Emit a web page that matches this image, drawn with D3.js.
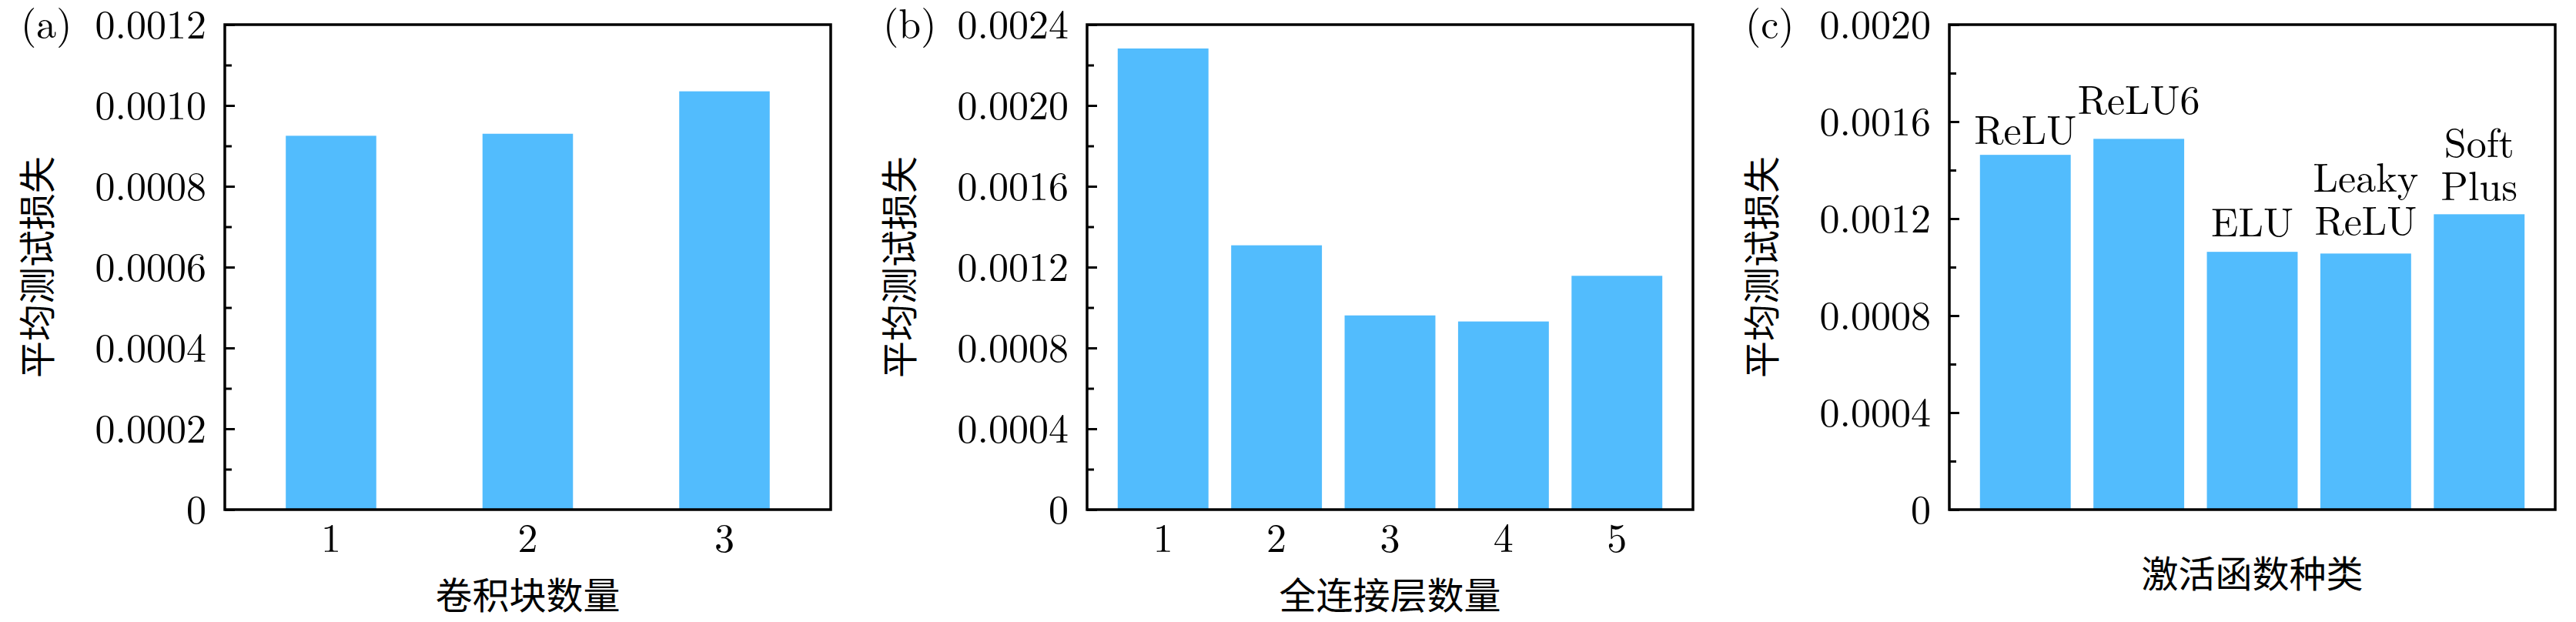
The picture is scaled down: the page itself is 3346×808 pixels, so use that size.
<!DOCTYPE html>
<html>
<head>
<meta charset="utf-8">
<script src="https://cdn.jsdelivr.net/npm/d3@7"></script>
<style>
  html, body { margin: 0; padding: 0; background: #fff; }
  svg { display: block; }
  .lat { font-family: "Latin Modern Roman", "Liberation Serif", "DejaVu Serif", serif; }
  .cjk { font-family: "Noto Sans CJK SC", "Noto Sans CJK JP", sans-serif; }
</style>
</head>
<body>
<svg id="chart" width="3346" height="808"></svg>
<script>
// ---------- data ----------
const convBlocks = ["1", "2", "3"];
const convLoss = [0.000925, 0.00093, 0.001035];

const fcLayers = ["1", "2", "3", "4", "5"];
const fcLoss = [0.002282, 0.001308, 0.000961, 0.000931, 0.001157];

const activations = ["ReLU", "ReLU6", "ELU", "Leaky ReLU", "Soft Plus"];
const actLoss = [0.001463, 0.001529, 0.001063, 0.001056, 0.001218];

const yTicksA = [0, 0.0002, 0.0004, 0.0006, 0.0008, 0.0010, 0.0012];
const yTicksB = [0, 0.0004, 0.0008, 0.0012, 0.0016, 0.0020, 0.0024];
const yTicksC = [0, 0.0004, 0.0008, 0.0012, 0.0016, 0.0020];

const yTitle = "平均测试损失";
const xTitles = ["卷积块数量", "全连接层数量", "激活函数种类"];
const panelTags = ["(a)", "(b)", "(c)"];

// ---------- drawing ----------
const svg = d3.select("#chart");
const barColor = "#52bcfd";
const plotTop = 32, plotBottom = 662, plotW = 787;

function fmt(v) { return v === 0 ? "0" : v.toFixed(4); }

function drawPanel(opt) {
  const g = svg.append("g");
  const left = opt.left, right = left + plotW;
  const yMax = opt.ticks[opt.ticks.length - 1];
  const y = d3.scaleLinear().domain([0, yMax]).range([plotBottom, plotTop]);
  const x = d3.scaleBand().domain(opt.cats).range([left, right])
    .paddingInner(opt.pi).paddingOuter(opt.po);

  // bars
  g.selectAll("rect.bar").data(opt.values).enter().append("rect")
    .attr("class", "bar")
    .attr("x", (d, i) => x(opt.cats[i]))
    .attr("width", x.bandwidth())
    .attr("y", d => y(d))
    .attr("height", d => plotBottom - y(d))
    .attr("fill", barColor);

  // y axis (left) with major + minor ticks pointing inward
  const step = opt.ticks[1] - opt.ticks[0];
  const minor = d3.range(step / 2, yMax, step);
  const yAxisMinor = d3.axisRight(y).tickValues(minor).tickSize(9).tickFormat("");
  g.append("g").attr("transform", `translate(${left},0)`).call(yAxisMinor)
    .call(s => s.select(".domain").remove())
    .call(s => s.selectAll("line").attr("stroke", "#000").attr("stroke-width", 3));
  const yAxisMajor = d3.axisRight(y).tickValues(opt.ticks).tickSize(13).tickFormat("");
  g.append("g").attr("transform", `translate(${left},0)`).call(yAxisMajor)
    .call(s => s.select(".domain").remove())
    .call(s => s.selectAll("line").attr("stroke", "#000").attr("stroke-width", 3));

  // tick labels
  g.selectAll("text.ytl").data(opt.ticks).enter().append("text")
    .attr("class", "lat")
    .attr("x", left - 24)
    .attr("y", d => y(d))
    .attr("dy", "0.34em")
    .attr("text-anchor", "end")
    .attr("font-size", 52)
    .text(fmt);

  // x tick labels
  if (opt.showX) {
    g.selectAll("text.xtl").data(opt.cats).enter().append("text")
      .attr("class", "lat")
      .attr("x", d => x(d) + x.bandwidth() / 2)
      .attr("y", 717)
      .attr("text-anchor", "middle")
      .attr("font-size", 52)
      .text(d => d);
  }

  // frame
  g.append("rect")
    .attr("x", left).attr("y", plotTop)
    .attr("width", plotW).attr("height", plotBottom - plotTop)
    .attr("fill", "none").attr("stroke", "#000").attr("stroke-width", 3.5);

  // y title
  g.append("text")
    .attr("class", "cjk")
    .attr("transform", `translate(${left - 226},${(plotTop + plotBottom) / 2}) rotate(-90)`)
    .attr("text-anchor", "middle")
    .attr("font-size", 48)
    .text(yTitle);

  // x title
  g.append("text")
    .attr("class", "cjk")
    .attr("x", left + plotW / 2)
    .attr("y", opt.xTitleY)
    .attr("text-anchor", "middle")
    .attr("font-size", 48)
    .text(opt.xTitle);

  // panel tag
  g.append("text")
    .attr("class", "lat")
    .attr("x", opt.tagX)
    .attr("y", 49)
    .attr("font-size", 52)
    .text(opt.tag);

  return { g, x, y };
}

drawPanel({ left: 292, cats: convBlocks, values: convLoss, ticks: yTicksA,
  pi: 0.54, po: 0.31, showX: true, xTitle: xTitles[0], xTitleY: 791, tag: panelTags[0], tagX: 27 });
drawPanel({ left: 1412, cats: fcLayers, values: fcLoss, ticks: yTicksB,
  pi: 0.2, po: 0.27, showX: true, xTitle: xTitles[1], xTitleY: 791, tag: panelTags[1], tagX: 1147 });
const pc = drawPanel({ left: 2532, cats: activations, values: actLoss, ticks: yTicksC,
  pi: 0.2, po: 0.27, showX: false, xTitle: xTitles[2], xTitleY: 763, tag: panelTags[2], tagX: 2267 });

// bar labels for panel (c)
const labelLift = [14, 32, 20, 24, 18];
activations.forEach((name, i) => {
  const lines = name.split(" ");
  const cx = pc.x(name) + pc.x.bandwidth() / 2;
  const base = pc.y(actLoss[i]) - labelLift[i];
  const t = pc.g.append("text")
    .attr("class", "lat")
    .attr("text-anchor", "middle")
    .attr("font-size", 52);
  lines.forEach((ln, j) => {
    t.append("tspan")
      .attr("x", cx)
      .attr("y", base - (lines.length - 1 - j) * 56)
      .text(ln);
  });
});
</script>
</body>
</html>
